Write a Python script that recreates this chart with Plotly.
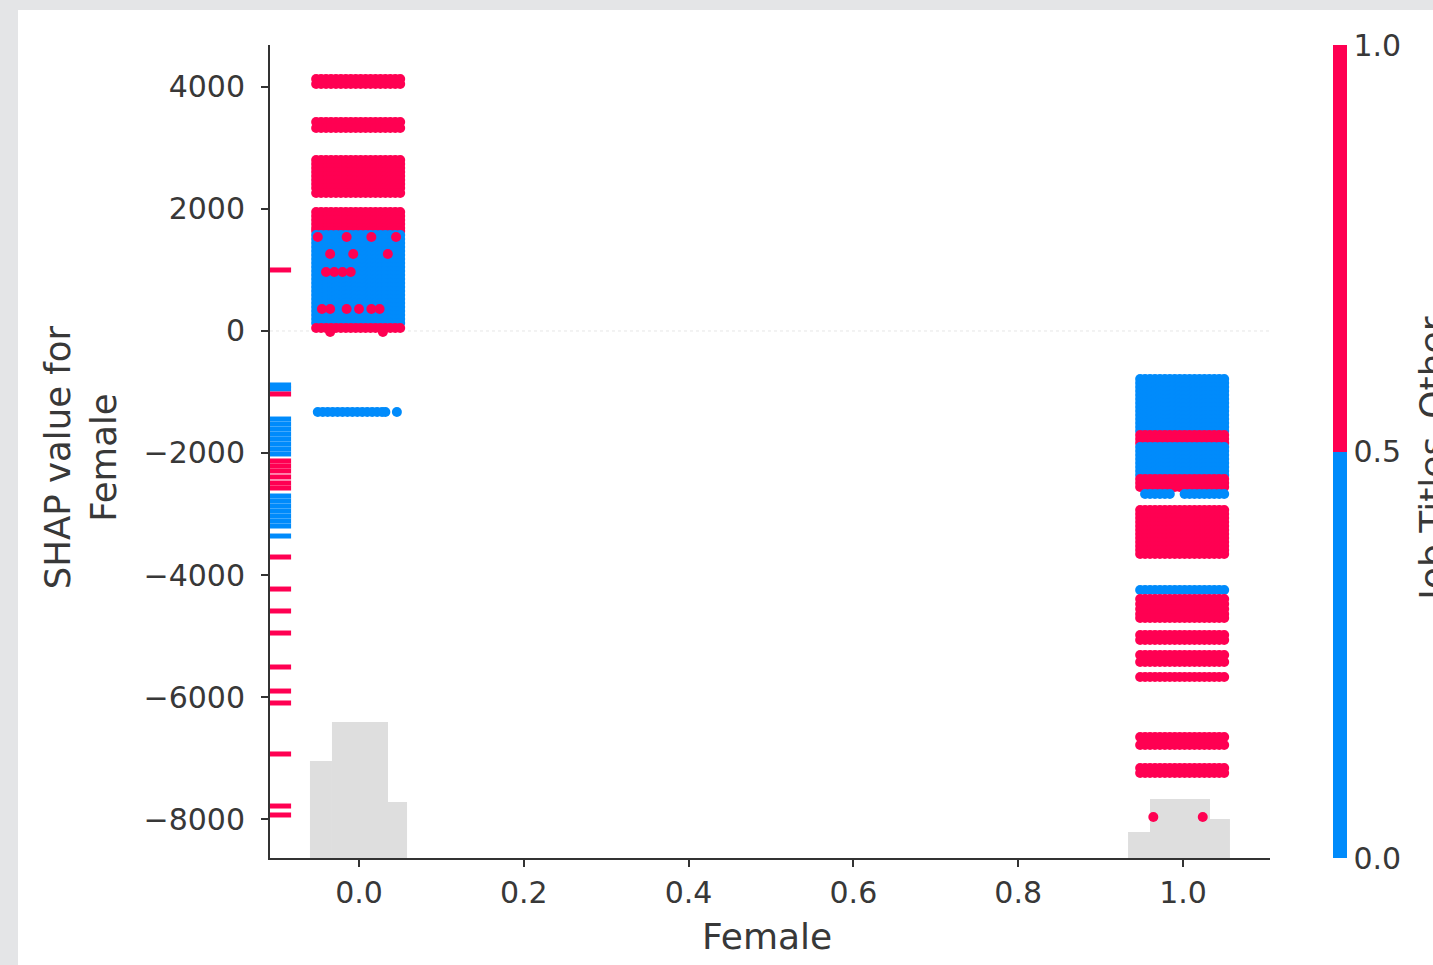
import plotly.graph_objects as go

# ---------------- data ----------------
BLUE = "#008bfb"
RED = "#ff0052"
COLORSCALE = [[0.0, BLUE], [0.5, BLUE], [0.5, RED], [1.0, RED]]

# horizontal jitter offsets used by the dense rows
JITTER = [-0.052, -0.046, -0.040, -0.034, -0.028, -0.022, -0.016, -0.010, -0.004,
          0.002, 0.008, 0.014, 0.020, 0.026, 0.032, 0.038, 0.044, 0.050]

# Female = 0 cluster: rows of SHAP values and the "Job Titles_Other" value
F0_ROW_SHAP = [4131, 4049, 3426, 3328,
               2803, 2738, 2672, 2607, 2541, 2475, 2410, 2344, 2262,
               1951, 1885, 1820, 1754, 1689, 1639,
               1574, 1508, 1443, 1377, 1311, 1246, 1180, 1115, 1049, 984, 918, 852,
               787, 721, 656, 590, 525, 459, 393, 328, 262, 197, 131,
               49]
F0_ROW_FEAT = [1, 1, 1, 1,
               1, 1, 1, 1, 1, 1, 1, 1, 1,
               1, 1, 1, 1, 1, 1,
               0, 0, 0, 0, 0, 0, 0, 0, 0, 0, 0, 0,
               0, 0, 0, 0, 0, 0, 0, 0, 0, 0, 0,
               1]

# Female = 1 cluster
F1_ROW_SHAP = [-787, -852, -918, -984, -1049, -1115, -1180, -1246, -1311, -1377, -1443,
               -1508, -1574, -1639,
               -1705, -1770, -1836,
               -1902, -1967, -2033, -2098, -2164, -2230, -2295, -2361,
               -2426, -2492, -2557,
               -2934, -3000, -3066, -3131, -3197, -3262, -3328, -3393, -3459, -3525,
               -3590, -3656,
               -4246,
               -4393, -4475, -4557, -4639, -4705,
               -4984, -5066,
               -5311, -5426, -5672,
               -6656, -6787,
               -7164, -7246]
F1_ROW_FEAT = [0, 0, 0, 0, 0, 0, 0, 0, 0, 0, 0,
               0, 0, 0,
               1, 1, 1,
               0, 0, 0, 0, 0, 0, 0, 0,
               1, 1, 1,
               1, 1, 1, 1, 1, 1, 1, 1, 1, 1,
               1, 1,
               0,
               1, 1, 1, 1, 1,
               1, 1,
               1, 1, 1,
               1, 1,
               1, 1]

# individual points (Female value incl. jitter, SHAP value, feature value)
SPOT_FEMALE = [-0.050, -0.015, 0.015, 0.045,
               -0.035, -0.007, 0.035,
               -0.040, -0.030, -0.020, -0.010,
               -0.045, -0.035, -0.015, 0.000, 0.015, 0.025,
               -0.035, 0.029,
               -0.050, -0.044, -0.038, -0.032, -0.026, -0.020, -0.014, -0.008, -0.002,
               0.004, 0.010, 0.016, 0.022, 0.028, 0.032, 0.046,
               0.954, 0.960, 0.966, 0.972, 0.978, 0.984, 1.002, 1.008, 1.014, 1.020,
               1.026, 1.032, 1.038, 1.044, 1.050,
               0.964, 1.024]
SPOT_SHAP = [1541, 1541, 1541, 1541,
             1262, 1262, 1262,
             967, 967, 967, 967,
             361, 361, 361, 361, 361, 361,
             -16, -16,
             -1328, -1328, -1328, -1328, -1328, -1328, -1328, -1328, -1328,
             -1328, -1328, -1328, -1328, -1328, -1328, -1328,
             -2672, -2672, -2672, -2672, -2672, -2672, -2672, -2672, -2672, -2672,
             -2672, -2672, -2672, -2672, -2672,
             -7967, -7967]
SPOT_FEAT = [1, 1, 1, 1,
             1, 1, 1,
             1, 1, 1, 1,
             1, 1, 1, 1, 1, 1,
             1, 1,
             0, 0, 0, 0, 0, 0, 0, 0, 0,
             0, 0, 0, 0, 0, 0, 0,
             0, 0, 0, 0, 0, 0, 0, 0, 0, 0,
             0, 0, 0, 0, 0,
             1, 1]

# points with missing Female value (drawn at the left edge)
NAN_FEMALE = -0.096
NAN_SHAP = [1000, -885, -951, -1033, -1443, -1525, -1607, -1689, -1770, -1852, -1934,
            -2016, -2131, -2213, -2295, -2393, -2492, -2574, -2705, -2787, -2869,
            -2951, -3033, -3115, -3197, -3361, -3705, -4230, -4590, -4951, -5508,
            -5902, -6098, -6934, -7787, -7934]
NAN_FEAT = [1, 0, 0, 1, 0, 0, 0, 0, 0, 0, 0,
            0, 1, 1, 1, 1, 1, 1, 0, 0, 0,
            0, 0, 0, 0, 0, 1, 1, 1, 1, 1,
            1, 1, 1, 1, 1]

# background histogram of Female
HIST_LEFT = [-0.0595, -0.0328, 0.0352, 0.9333, 0.9600, 1.0328]
HIST_RIGHT = [-0.0328, 0.0352, 0.0583, 0.9600, 1.0328, 1.0570]
HIST_TOP = [-7049, -6410, -7721, -8213, -7672, -8000]

X_RANGE = [-0.108, 1.1056]
Y_RANGE = [-8639, 4688]
X_TICKS = [0.0, 0.2, 0.4, 0.6, 0.8, 1.0]
X_TICK_LABELS = ["0.0", "0.2", "0.4", "0.6", "0.8", "1.0"]
Y_TICKS = [-8000, -6000, -4000, -2000, 0, 2000, 4000]
Y_TICK_LABELS = ["\u22128000", "\u22126000", "\u22124000", "\u22122000", "0", "2000", "4000"]
CB_TICKS = [0.0, 0.5, 1.0]
CB_TICK_LABELS = ["0.0", "0.5", "1.0"]

X_TITLE = "Female"
Y_TITLE = "SHAP value for<br>Female"
CB_TITLE = "Job Titles_Other"

# ---------------- build ----------------
FONT = "DejaVu Sans"
TXT = "#383838"

fig = go.Figure()

# histogram
fig.add_trace(go.Bar(
    x=[(l + r) / 2 for l, r in zip(HIST_LEFT, HIST_RIGHT)],
    width=[r - l for l, r in zip(HIST_LEFT, HIST_RIGHT)],
    y=[t - Y_RANGE[0] for t in HIST_TOP],
    base=Y_RANGE[0],
    marker=dict(color="#dedede", line=dict(width=0)),
    hoverinfo="skip", showlegend=False,
))

# dense rows
px, py, pc = [], [], []
for center, rows_s, rows_f in ((0.0, F0_ROW_SHAP, F0_ROW_FEAT), (1.0, F1_ROW_SHAP, F1_ROW_FEAT)):
    for s, f in zip(rows_s, rows_f):
        for j in JITTER:
            px.append(center + j)
            py.append(s)
            pc.append(f)
px += SPOT_FEMALE
py += SPOT_SHAP
pc += SPOT_FEAT

fig.add_trace(go.Scatter(
    x=px, y=py, mode="markers",
    marker=dict(size=10, color=pc, colorscale=COLORSCALE, cmin=0, cmax=1,
                line=dict(width=0), showscale=True,
                colorbar=dict(
                    x=1.063, xanchor="left", y=0.5, yanchor="middle",
                    len=1.0, lenmode="fraction", thickness=14,
                    xpad=0, ypad=0, outlinewidth=0,
                    tickvals=CB_TICKS, ticktext=CB_TICK_LABELS,
                    ticks="", ticklen=0,
                    tickfont=dict(family=FONT, size=30, color=TXT),
                )),
    hoverinfo="skip", showlegend=False,
))

# missing values strip
fig.add_trace(go.Scatter(
    x=[NAN_FEMALE] * len(NAN_SHAP), y=NAN_SHAP, mode="markers",
    marker=dict(symbol="line-ew", size=16,
                line=dict(width=5, color=NAN_FEAT, colorscale=COLORSCALE, cmin=0, cmax=1)),
    hoverinfo="skip", showlegend=False,
))

fig.update_layout(
    width=1433, height=965, autosize=False,
    margin=dict(l=270, r=163, t=45, b=107),
    paper_bgcolor="#e4e5e7", plot_bgcolor="white",
    font=dict(family=FONT, color=TXT),
    shapes=[
        dict(type="rect", xref="paper", yref="paper", x0=-0.252, x1=1.3, y0=-0.2, y1=1.043,
             fillcolor="white", line=dict(width=0), layer="below"),
        dict(type="line", xref="paper", yref="y", x0=0, x1=1, y0=0, y1=0,
             line=dict(color="#e6e6e6", width=1, dash="dot"), layer="below"),
    ],
    xaxis=dict(range=X_RANGE, tickvals=X_TICKS, ticktext=X_TICK_LABELS,
               showline=True, linecolor="#333333", linewidth=2,
               ticks="outside", ticklen=7, tickwidth=1.5, tickcolor="#333333",
               showgrid=False, zeroline=False,
               tickfont=dict(family=FONT, size=30, color=TXT)),
    yaxis=dict(range=Y_RANGE, tickvals=Y_TICKS, ticktext=Y_TICK_LABELS,
               showline=True, linecolor="#333333", linewidth=2,
               ticks="outside", ticklen=7, tickwidth=1.5, tickcolor="#333333",
               showgrid=False, zeroline=False, ticklabelstandoff=10,
               tickfont=dict(family=FONT, size=30, color=TXT)),
    annotations=[
        dict(text=X_TITLE, xref="paper", yref="paper", x=0.497, y=-0.097,
             xanchor="center", yanchor="middle", showarrow=False,
             font=dict(family=FONT, size=36, color=TXT)),
        dict(text=Y_TITLE, xref="paper", yref="paper", x=-0.19, y=0.493,
             xanchor="center", yanchor="middle", showarrow=False, textangle=-90,
             font=dict(family=FONT, size=35.5, color=TXT)),
        dict(text=CB_TITLE, xref="paper", yref="paper", x=1.163, y=0.49,
             xanchor="center", yanchor="middle", showarrow=False, textangle=-90,
             font=dict(family=FONT, size=36, color=TXT)),
    ],
)

fig.write_html("out.html", config={"displayModeBar": False},
               post_script="document.body.style.margin='0';document.body.style.overflow='hidden';")
